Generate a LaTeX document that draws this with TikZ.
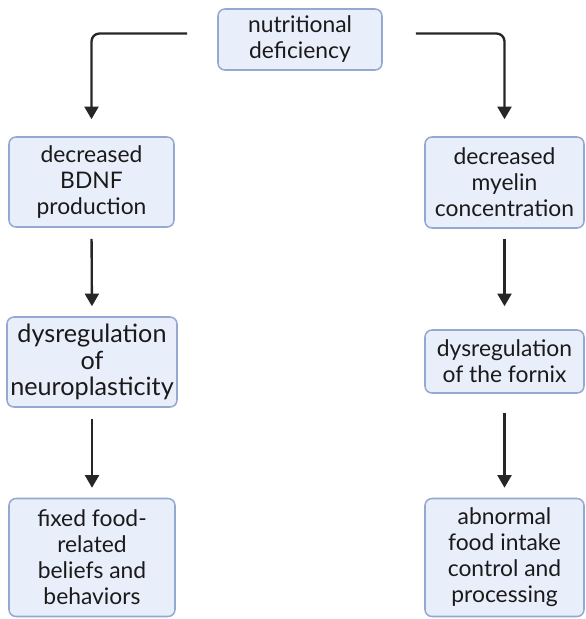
\documentclass[tikz,border=0pt]{standalone}
\usepackage{fontspec}
\setmainfont{Lato}
\usetikzlibrary{arrows.meta,calc}
\definecolor{boxFill}{HTML}{E9EFFA}
\definecolor{boxLine}{HTML}{94A8D0}
\definecolor{textGray}{HTML}{1A1A1A}
\definecolor{arrowGray}{HTML}{262626}
\tikzset{
  flowbox/.style={draw=boxLine,fill=boxFill,line width=1.3pt,rounded corners=0.21cm,
    align=center,text=textGray,inner sep=1pt,font=\fontsize{19.5}{22.2}\selectfont},
  flowarrow/.style={draw=arrowGray,line width=2pt,-{Triangle[width=0.42cm,length=0.38cm]}}
}

\begin{document}
\begin{tikzpicture}[x=0.03cm,y=-0.03cm]
\useasboundingbox (0,0) rectangle (585,619);
\node[flowbox,minimum width=164*0.03cm,minimum height=61*0.03cm] (deficiency) at (300,39.5) {nutritional\\deficiency};
\node[flowbox,minimum width=165*0.03cm,minimum height=90*0.03cm] (bdnf) at (91.5,182) {decreased\\BDNF\\production};
\node[flowbox,minimum width=159*0.03cm,minimum height=91*0.03cm] (myelin) at (504.5,182.5) {decreased\\myelin\\concentration};
\node[flowbox,minimum width=170*0.03cm,minimum height=90*0.03cm,font=\fontsize{21.5}{22.5}\selectfont] (neuro) at (92,362) {dysregulation\\of\\neuroplasticity};
\node[flowbox,minimum width=159*0.03cm,minimum height=63*0.03cm] (fornix) at (504.5,361.5) {dysregulation\\of the fornix};
\node[flowbox,minimum width=166*0.03cm,minimum height=118*0.03cm] (beliefs) at (92,557.5) {fixed food-\\related\\beliefs and\\behaviors};
\node[flowbox,minimum width=159*0.03cm,minimum height=118*0.03cm] (intake) at (504.5,557.5) {abnormal\\food intake\\control and\\processing};
% split from the top box
\draw[flowarrow,rounded corners=0.24cm,shorten >=17*0.03cm] ($(deficiency.west)+(-30,-6)$) -| (bdnf.north);
\draw[flowarrow,rounded corners=0.24cm,shorten >=17*0.03cm] ($(deficiency.east)+(33,-6)$) -| (myelin.north);
% left column
\draw[flowarrow,shorten <=11*0.03cm,shorten >=10*0.03cm] (bdnf.south) -- (neuro.north);
\draw[flowarrow,shorten <=11*0.03cm,shorten >=10*0.03cm] (neuro.south) -- (beliefs.north);
% right column
\draw[flowarrow,shorten <=10*0.03cm,shorten >=23*0.03cm] (myelin.south) -- (fornix.north);
\draw[flowarrow,shorten <=19*0.03cm,shorten >=10*0.03cm] (fornix.south) -- (intake.north);
\end{tikzpicture}
\end{document}
